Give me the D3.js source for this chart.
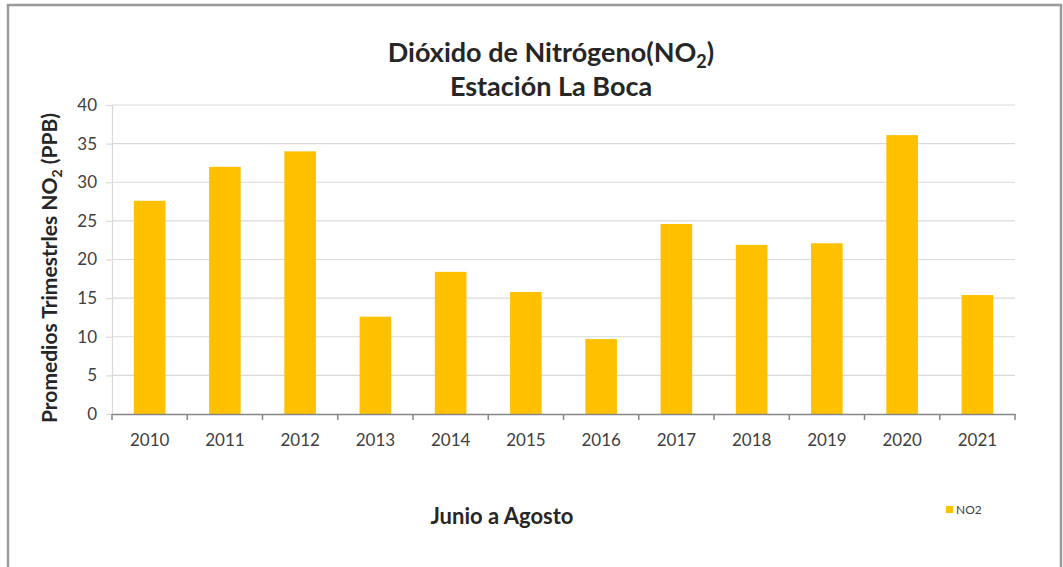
<!DOCTYPE html>
<html>
<head>
<meta charset="utf-8">
<script src="https://cdn.jsdelivr.net/npm/d3@7"></script>
<style>
  html, body { margin: 0; padding: 0; background: #fff; }
  svg { display: block; }
  text { font-family: Lato, "Open Sans", sans-serif; }
</style>
</head>
<body>
<svg id="chart" width="1063" height="567"></svg>
<script>
const years = ["2010","2011","2012","2013","2014","2015","2016","2017","2018","2019","2020","2021"];
const no2Values = [27.6, 32.0, 34.0, 12.6, 18.4, 15.8, 9.7, 24.6, 21.9, 22.1, 36.1, 15.4];
const yTicks = [0, 5, 10, 15, 20, 25, 30, 35, 40];
const seriesName = "NO2";

const svg = d3.select("#chart");
const W = 1063, H = 567;
const margin = { left: 112, right: 48, top: 105, bottom: 153 };
const plotW = W - margin.left - margin.right;
const plotH = H - margin.top - margin.bottom;

// outer frame
svg.append("rect").attr("x", 8).attr("y", 5).attr("width", 1053).attr("height", 600)
  .attr("fill", "#fff").attr("stroke", "#9a9a9a").attr("stroke-width", 2.5);

const x = d3.scaleBand().domain(years).range([margin.left, margin.left + plotW])
  .paddingInner(0.58).paddingOuter(0.29);
const y = d3.scaleLinear().domain([0, 40]).range([margin.top + plotH, margin.top]);

// gridlines
svg.append("g").selectAll("line").data(yTicks.filter(d => d > 0)).join("line")
  .attr("x1", margin.left).attr("x2", margin.left + plotW)
  .attr("y1", d => y(d)).attr("y2", d => y(d))
  .attr("stroke", "#d9d9d9").attr("stroke-width", 1.2);

// y axis
const yAxis = svg.append("g").attr("transform", `translate(${margin.left},0)`)
  .call(d3.axisLeft(y).tickValues(yTicks).tickSize(6).tickPadding(9));
yAxis.select(".domain").attr("stroke", "#d9d9d9").attr("stroke-width", 1.2);
yAxis.selectAll(".tick line").attr("stroke", "#d9d9d9").attr("stroke-width", 1.2);
yAxis.selectAll(".tick text").attr("fill", "#404040").style("font-size", "17px")
  .style("font-family", "Lato, 'Open Sans', sans-serif");

// bars
svg.append("g").selectAll("rect").data(years).join("rect")
  .attr("x", (d) => x(d))
  .attr("width", x.bandwidth())
  .attr("y", (d, i) => y(no2Values[i]))
  .attr("height", (d, i) => y(0) - y(no2Values[i]))
  .attr("fill", "#FFC000");

// x axis
const step = x.step();
const xAxis = svg.append("g").attr("transform", `translate(0,${y(0)})`)
  .call(d3.axisBottom(x).tickSize(0).tickPadding(20));
xAxis.select(".domain").attr("stroke", "#868686").attr("stroke-width", 1.5);
xAxis.selectAll(".tick text").attr("fill", "#404040").style("font-size", "17px")
  .style("font-family", "Lato, 'Open Sans', sans-serif");
// category boundary ticks
const boundaries = d3.range(years.length + 1).map(i => margin.left + i * step);
xAxis.append("g").selectAll("line").data(boundaries).join("line")
  .attr("x1", d => d).attr("x2", d => d).attr("y1", 0).attr("y2", 6)
  .attr("stroke", "#868686").attr("stroke-width", 1.5);

// title
const title = svg.append("text").attr("x", 551).attr("y", 62).attr("text-anchor", "middle")
  .attr("fill", "#262626").style("font-size", "27px").style("font-weight", "bold");
title.append("tspan").text("Dióxido de Nitrógeno(NO");
title.append("tspan").attr("dy", 6).style("font-size", "18px").text("2");
title.append("tspan").attr("dy", -6).text(")");
svg.append("text").attr("x", 551).attr("y", 96).attr("text-anchor", "middle")
  .attr("fill", "#262626").style("font-size", "27px").style("font-weight", "bold")
  .text("Estación La Boca");

// y axis title
const yt = svg.append("text").attr("transform", "translate(57,268) rotate(-90)")
  .attr("text-anchor", "middle").attr("fill", "#262626")
  .style("font-size", "21px").style("font-weight", "bold");
yt.append("tspan").text("Promedios Trimestrles NO");
yt.append("tspan").attr("dy", 5).style("font-size", "14px").text("2");
yt.append("tspan").attr("dy", -5).text(" (PPB)");

// x axis title
svg.append("text").attr("x", 502).attr("y", 524).attr("text-anchor", "middle")
  .attr("fill", "#262626").style("font-size", "22px").style("font-weight", "bold")
  .text("Junio a Agosto");

// legend
svg.append("rect").attr("x", 946).attr("y", 506).attr("width", 7).attr("height", 7).attr("fill", "#FFC000");
svg.append("text").attr("x", 956).attr("y", 514).attr("fill", "#404040")
  .style("font-size", "12px").text(seriesName);
</script>
</body>
</html>
